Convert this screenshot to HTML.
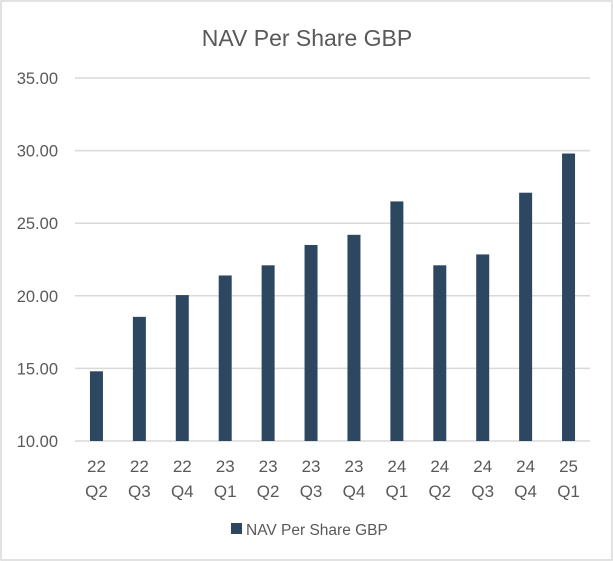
<!DOCTYPE html>
<html><head><meta charset="utf-8"><style>
html,body{margin:0;padding:0;background:#fff;}
svg{display:block;font-family:"Liberation Sans",sans-serif;}
</style></head><body>
<svg id="chart" width="613" height="561">
<rect x="1" y="1" width="611" height="559" fill="#fff" stroke="#d9d9d9" stroke-width="1.5"/>
<text x="307" y="46" text-anchor="middle" font-size="23" fill="#595959">NAV Per Share GBP</text>
<g id="grid"></g><g id="bars"></g><g id="xlabels"></g>
<g>
<rect x="231" y="523" width="11" height="11" fill="#2e4760"/>
<text x="246" y="535" font-size="15.5" fill="#595959">NAV Per Share GBP</text>
</g>
</svg>
<script>
const categoriesYear = ["22","22","22","23","23","23","23","24","24","24","24","25"];
const categoriesQuarter = ["Q2","Q3","Q4","Q1","Q2","Q3","Q4","Q1","Q2","Q3","Q4","Q1"];
const navValues = [14.8,18.55,20.05,21.4,22.1,23.5,24.2,26.5,22.1,22.85,27.1,29.8];
const yTicks = [10,15,20,25,30,35];
const yTickLabels = ["10.00","15.00","20.00","25.00","30.00","35.00"];

const NS="http://www.w3.org/2000/svg";
const plotLeft=75,plotRight=590,plotTop=78,plotBottom=441,ymin=10,ymax=35;
const band=(plotRight-plotLeft)/navValues.length;
function yScale(v){return plotBottom-(v-ymin)/(ymax-ymin)*(plotBottom-plotTop);}
function xc(i){return plotLeft+band*(i+0.5);}
function mk(tag,attrs,parent){const e=document.createElementNS(NS,tag);for(const k in attrs)e.setAttribute(k,attrs[k]);parent.appendChild(e);return e;}
const grid=document.getElementById('grid'),bars=document.getElementById('bars'),xl=document.getElementById('xlabels');
yTicks.forEach((t,i)=>{
  const l=mk('line',{x1:plotLeft,x2:plotRight,y1:yScale(t),y2:yScale(t),stroke:'#d9d9d9','stroke-width':1.5},grid);
  
  
  const tx=mk('text',{x:58,y:yScale(t)+6,'text-anchor':'end','font-size':16.5,fill:'#595959'},grid);
  tx.textContent=yTickLabels[i];
  
  
});
navValues.forEach((v,i)=>{
  const r=mk('rect',{x:xc(i)-6.5,y:yScale(v),width:13,height:yScale(ymin)-yScale(v),fill:'#2e4760'},bars);
  
  
  const t1=mk('text',{x:xc(i),y:472,'text-anchor':'middle','font-size':17,fill:'#595959'},xl);
  t1.textContent=categoriesYear[i];
  
  
  const t2=mk('text',{x:xc(i),y:497,'text-anchor':'middle','font-size':17,fill:'#595959'},xl);
  t2.textContent=categoriesQuarter[i];
  
  
});
</script>
</body></html>
